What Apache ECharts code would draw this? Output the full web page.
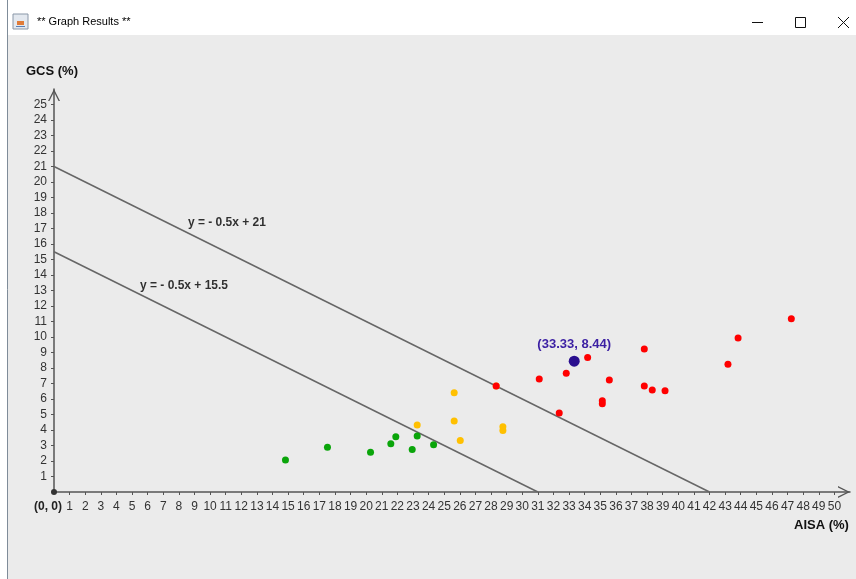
<!DOCTYPE html>
<html>
<head>
<meta charset="utf-8">
<script src="https://cdn.jsdelivr.net/npm/echarts@6/dist/echarts.min.js"></script>
<style>
html, body { margin: 0; padding: 0; background: #fff; }
#chart { width: 856px; height: 579px; }
</style>
</head>
<body>
<div id="chart"></div>
<script>
// tick values
var xTicks = [0, 1, 2, 3, 4, 5, 6, 7, 8, 9, 10, 11, 12, 13, 14, 15, 16, 17, 18, 19, 20, 21, 22, 23, 24, 25,
    26, 27, 28, 29, 30, 31, 32, 33, 34, 35, 36, 37, 38, 39, 40, 41, 42, 43, 44, 45, 46, 47, 48, 49, 50];
var yTicks = [0, 1, 2, 3, 4, 5, 6, 7, 8, 9, 10, 11, 12, 13, 14, 15, 16, 17, 18, 19, 20, 21, 22, 23, 24, 25];

// points (AISA %, GCS %)
var greenX = [14.83, 17.52, 20.28, 21.58, 21.9, 22.95, 23.27, 24.32];
var greenY = [2.06, 2.88, 2.56, 3.12, 3.57, 2.75, 3.61, 3.05];
var orangeX = [23.27, 25.64, 25.64, 26.03, 28.76, 28.76, 28.33];
var orangeY = [4.32, 6.41, 4.58, 3.33, 4.21, 3.96, 6.84];
var redX = [28.33, 31.09, 32.37, 32.82, 34.19, 35.58, 35.13, 35.13, 37.82, 37.82, 38.33, 39.15, 43.18, 43.83, 47.24];
var redY = [6.84, 7.29, 5.1, 7.66, 8.67, 7.23, 5.89, 5.70, 9.23, 6.84, 6.58, 6.54, 8.24, 9.94, 11.18];
var centerPt = [33.33, 8.44];
var originPt = [0, 0];

// the two boundary lines
var upperX = [0, 42], upperY = [21, 0];
var lowerX = [0, 31], lowerY = [15.5, 0];
var lineTexts = ['y = - 0.5x + 21', 'y = - 0.5x + 15.5'];
var lineTextX = [11.08, 8.33];
var lineTextY = [17.35, 13.29];

function pairs(xs, ys) {
    return xs.map(function (x, i) { return [x, ys[i]]; });
}

var chart = echarts.init(document.getElementById('chart'));
var font = 'Liberation Sans, Arial, sans-serif';
var chevron = 'path://M0,10 L5,0 L10,10 L8.8,10 L5,2.4 L1.2,10 Z';

chart.setOption({
    animation: false,
    backgroundColor: '#ebebeb',
    grid: { left: 54, top: 89, width: 796, height: 403 },
    xAxis: {
        type: 'value', min: 0, max: 51,
        splitLine: { show: false },
        axisLine: {
            lineStyle: { color: '#555', width: 1.5 },
            symbol: ['none', chevron], symbolSize: [12, 12], symbolOffset: [0, -6]
        },
        axisTick: { customValues: xTicks.slice(1), length: 3, lineStyle: { color: '#555' } },
        axisLabel: {
            customValues: xTicks, margin: 9,
            color: '#333', fontFamily: font, fontSize: 12,
            formatter: function (v) { return v === 0 ? '{o|(0, 0)}' : String(v); },
            rich: { o: { fontWeight: 'bold', color: '#222', fontFamily: font, fontSize: 12, padding: [0, 12, 0, 0] } }
        }
    },
    yAxis: {
        type: 'value', min: 0, max: 26,
        splitLine: { show: false },
        axisLine: {
            lineStyle: { color: '#555', width: 1.5 },
            symbol: ['none', chevron], symbolSize: [12, 12], symbolOffset: [0, -6]
        },
        axisTick: { customValues: yTicks.slice(1), length: 3, lineStyle: { color: '#555' } },
        axisLabel: {
            customValues: yTicks.slice(1), margin: 7,
            color: '#333', fontFamily: font, fontSize: 12
        }
    },
    graphic: [
        { type: 'rect', z: -10, shape: { x: 0, y: 0, width: 856, height: 35 }, style: { fill: '#fff' } },
        { type: 'rect', z: -10, shape: { x: 0, y: 0, width: 7, height: 579 }, style: { fill: '#fff' } },
        { type: 'line', shape: { x1: 7.5, y1: 0, x2: 7.5, y2: 579 }, style: { stroke: '#7f8c99', lineWidth: 1 } },
        { type: 'rect', shape: { x: 13, y: 14, width: 15, height: 15 }, style: { fill: '#e3e8ef', stroke: '#8a97a8', lineWidth: 1 } },
        { type: 'rect', shape: { x: 17, y: 21, width: 7, height: 4 }, style: { fill: '#e07b39' } },
        { type: 'rect', shape: { x: 16, y: 26, width: 9, height: 1 }, style: { fill: '#5b7fb5' } },
        { type: 'text', left: 37, top: 16, style: { text: '** Graph Results **', font: '11px Liberation Sans, Arial, sans-serif', fill: '#000' } },
        { type: 'line', shape: { x1: 752, y1: 22.5, x2: 763, y2: 22.5 }, style: { stroke: '#111', lineWidth: 1 } },
        { type: 'rect', shape: { x: 795.5, y: 17.5, width: 10, height: 10 }, style: { fill: 'none', stroke: '#111', lineWidth: 1 } },
        { type: 'line', shape: { x1: 838, y1: 17, x2: 849, y2: 28 }, style: { stroke: '#111', lineWidth: 1 } },
        { type: 'line', shape: { x1: 849, y1: 17, x2: 838, y2: 28 }, style: { stroke: '#111', lineWidth: 1 } },
        { type: 'text', left: 26, top: 65, style: { text: 'GCS (%)', font: 'bold 13px Liberation Sans, Arial, sans-serif', fill: '#111' } },
        { type: 'text', left: 794, top: 519, style: { text: 'AISA (%)', font: 'bold 13px Liberation Sans, Arial, sans-serif', fill: '#111' } }
    ],
    series: [
        {
            type: 'line', data: pairs(upperX, upperY), symbol: 'none', silent: true,
            lineStyle: { color: '#666', width: 1.5 }, z: 1
        },
        {
            type: 'line', data: pairs(lowerX, lowerY), symbol: 'none', silent: true,
            lineStyle: { color: '#666', width: 1.5 }, z: 1
        },
        {
            type: 'scatter', symbolSize: 0, silent: true,
            data: pairs(lineTextX, lineTextY),
            label: {
                show: true, position: 'inside', color: '#000', fontWeight: 'bold',
                fontFamily: font, fontSize: 12,
                formatter: function (p) { return lineTexts[p.dataIndex]; }
            }
        },
        {
            type: 'scatter', data: pairs(greenX, greenY), symbolSize: 7,
            itemStyle: { color: '#0aa50a', opacity: 1 }
        },
        {
            type: 'scatter', data: pairs(orangeX, orangeY), symbolSize: 7,
            itemStyle: { color: '#ffc000', opacity: 1 }
        },
        {
            type: 'scatter', data: pairs(redX, redY), symbolSize: 7,
            itemStyle: { color: '#ff0000', opacity: 1 }
        },
        {
            type: 'scatter', data: [centerPt], symbolSize: 11,
            itemStyle: { color: '#2a0f8f', opacity: 1 },
            label: {
                show: true, position: 'top', distance: 5,
                color: '#3b1fa3', fontWeight: 'bold', fontFamily: font, fontSize: 13,
                formatter: '(33.33, 8.44)'
            }
        },
        {
            type: 'scatter', data: [originPt], symbolSize: 6,
            itemStyle: { color: '#333', opacity: 1 }
        }
    ]
});
</script>
</body>
</html>
